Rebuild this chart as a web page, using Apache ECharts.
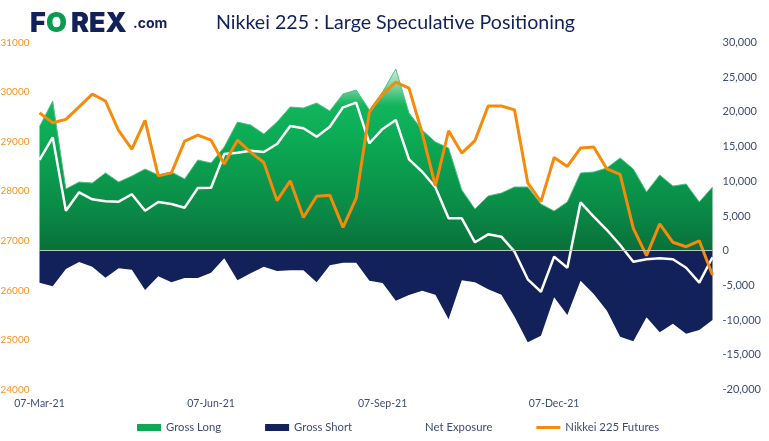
<!DOCTYPE html>
<html>
<head>
<meta charset="utf-8">
<style>
  html, body { margin: 0; padding: 0; background: #fff; }
  #main { width: 769px; height: 441px; }
</style>
<script src="https://cdn.jsdelivr.net/npm/echarts@6/dist/echarts.min.js"></script>
</head>
<body>
<div id="main"></div>
<script>
// weekly points, only the four quarter dates carry a label
const categories = [
  '07-Mar-21', '', '', '', '', '', '', '', '', '', '', '', '',
  '07-Jun-21', '', '', '', '', '', '', '', '', '', '', '', '',
  '07-Sep-21', '', '', '', '', '', '', '', '', '', '', '', '',
  '07-Dec-21', '', '', '', '', '', '', '', '', '', '', '', ''
];
const grossLong = [
  17870, 21570, 8890, 9900, 9750, 11200, 9900, 10760, 11770, 10910, 11340, 10330, 13070,
  12640, 14940, 18540, 18110, 16820, 18540, 20710, 20560, 21280, 20130, 22580, 23150, 20270,
  22870, 26180, 19840, 17390, 15660, 14800, 8750, 6010, 7880, 8310, 9180, 9180, 6730,
  5720, 7020, 11200, 11340, 11920, 13360, 11770, 8460, 10910, 9320, 9610, 7020, 9180
];
const grossShort = [
  -4610, -5130, -2640, -1630, -2310, -3890, -2540, -2740, -5660, -3690, -4550, -3930, -3930,
  -3170, -1100, -4270, -3260, -2310, -2930, -2820, -2820, -4550, -2100, -1730, -1730, -4320,
  -4650, -7200, -6380, -5760, -6340, -9880, -4270, -4550, -5560, -6340, -9510, -13200, -12250,
  -6710, -9260, -4320, -6240, -8650, -12390, -13050, -9600, -11760, -10520, -11960, -11430, -9990
];
const netExposure = [
  13070, 16340, 5760, 8410, 7410, 7120, 7060, 8130, 5760, 7020, 6730, 6200, 9030,
  9080, 13930, 14120, 14410, 14220, 15370, 17970, 17640, 16430, 17870, 20660, 21330, 15480,
  17540, 18830, 13170, 11380, 9140, 4670, 4670, 1210, 2360, 2020, -140, -4120, -5910,
  -860, -2450, 6970, 4900, 2980, 820, -1580, -1240, -1100, -1240, -2450, -4610, -950
];
const nikkeiFutures = [
  29580, 29380, 29450, 29700, 29960, 29820, 29220, 28850, 29430, 28310, 28370, 29010, 29130,
  29030, 28550, 29030, 28790, 28580, 27810, 28210, 27470, 27900, 27920, 27270, 27860, 29600,
  29960, 30200, 30080, 29170, 28110, 29220, 28770, 29020, 29720, 29720, 29640, 28170, 27790,
  28680, 28500, 28870, 28890, 28450, 28340, 27250, 26700, 27340, 26970, 26880, 27000, 26310
];

const FONT = 'Lato';
const NAVY = '#12215a';
const LABEL = '#3f4b78';
const ORANGE = '#f7931e';

const chart = echarts.init(document.getElementById('main'), null, { renderer: 'canvas' });

const longFill = new echarts.graphic.LinearGradient(0, 0, 0, 1, [
  { offset: 0, color: '#d4efdf' },
  { offset: 0.2, color: '#12b45c' },
  { offset: 0.35, color: '#0cad56' },
  { offset: 0.75, color: '#0a8c47' },
  { offset: 1, color: '#09703a' }
]);

chart.setOption({
  animation: false,
  backgroundColor: '#fff',
  textStyle: { fontFamily: FONT },
  grid: { left: 39.5, right: 56.5, top: 42.5, bottom: 51.5, containLabel: false, outerBoundsMode: 'none' },
  title: {
    text: 'Nikkei 225 : Large Speculative Positioning',
    left: 211, top: 8,
    textStyle: { fontFamily: FONT, fontSize: 19.6, fontWeight: 'normal', color: NAVY }
  },
  legend: {
    left: 132, top: 417,
    itemWidth: 24, itemHeight: 7, itemGap: 44,
    textStyle: { fontFamily: FONT, fontSize: 11.3, color: LABEL },
    data: [
      { name: 'Gross Long', icon: 'rect', itemStyle: { color: '#0fa854' } },
      { name: 'Gross Short', icon: 'rect', itemStyle: { color: NAVY } },
      { name: 'Net Exposure', icon: 'rect', itemStyle: { color: '#fff' } },
      { name: 'Nikkei 225 Futures', icon: 'path://M0,0H240V30H0Z', itemStyle: { color: '#f58a0b' } }
    ]
  },
  xAxis: {
    type: 'category',
    data: categories,
    boundaryGap: false,
    axisLine: { show: false },
    axisTick: { show: false },
    axisLabel: {
      interval: 0, margin: 9, showMinLabel: true, showMaxLabel: true, hideOverlap: false,
      fontFamily: FONT, fontSize: 10.5, color: LABEL
    },
    splitLine: { show: false }
  },
  yAxis: [
    {
      type: 'value', position: 'right', min: -20000, max: 30000, interval: 5000,
      axisLine: { show: false }, axisTick: { show: false }, splitLine: { show: false },
      axisLabel: {
        margin: 10, fontFamily: FONT, fontSize: 11, color: LABEL,
        formatter: (v) => v.toLocaleString('en-US')
      }
    },
    {
      type: 'value', position: 'left', min: 24000, max: 31000, interval: 1000,
      axisLine: { show: false }, axisTick: { show: false }, splitLine: { show: false },
      axisLabel: { margin: 10, fontFamily: FONT, fontSize: 10, color: ORANGE, formatter: (v) => String(v) }
    }
  ],
  series: [
    {
      name: 'Gross Long', type: 'line', yAxisIndex: 0, data: grossLong,
      symbol: 'none', lineStyle: { width: 1, color: '#4fc184' },
      itemStyle: { color: '#0fa854' },
      areaStyle: { color: longFill, opacity: 1 }
    },
    {
      name: 'Gross Short', type: 'line', yAxisIndex: 0, data: grossShort,
      symbol: 'none', lineStyle: { width: 0, color: NAVY },
      itemStyle: { color: NAVY },
      areaStyle: { color: NAVY, opacity: 1 },
      markLine: {
        silent: true, symbol: 'none', label: { show: false },
        lineStyle: { color: '#b9c6be', width: 1, type: 'solid' },
        data: [{ yAxis: 0 }]
      }
    },
    {
      name: 'Net Exposure', type: 'line', yAxisIndex: 0, data: netExposure,
      symbol: 'none', lineStyle: { width: 2.5, color: '#fff' }, itemStyle: { color: '#fff' }
    },
    {
      name: 'Nikkei 225 Futures', type: 'line', yAxisIndex: 1, data: nikkeiFutures,
      symbol: 'none', lineStyle: { width: 3, color: '#f58a0b' }, itemStyle: { color: '#f58a0b' }
    }
  ],
  graphic: [
    { type: 'text', left: 30, top: 10, style: { text: 'F', font: '900 27px Inter', fill: NAVY } },
    { type: 'text', left: 46, top: 10, style: { text: 'O', font: '900 27px Inter', fill: '#0a9b50' } },
    { type: 'text', left: 71, top: 10, style: { text: 'REX', font: '900 27px Inter', fill: NAVY } },
    { type: 'text', left: 133, top: 17, style: { text: '.com', font: '700 14px Inter', fill: NAVY } }
  ]
});
</script>
</body>
</html>
